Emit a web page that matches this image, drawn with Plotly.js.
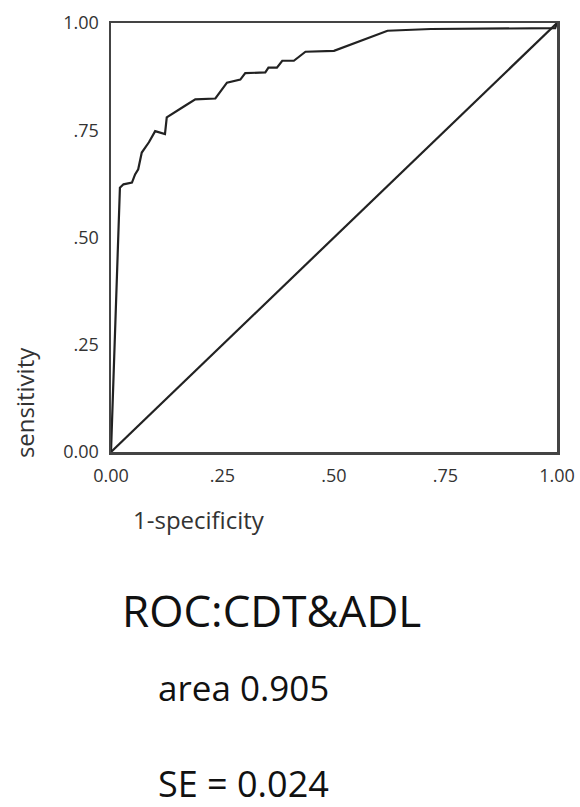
<!DOCTYPE html>
<html>
<head>
<meta charset="utf-8">
<script src="https://cdn.plot.ly/plotly-3.0.1.min.js"></script>
<style>html,body{margin:0;padding:0;background:#fff;}#chart{width:580px;height:807px;}</style>
</head>
<body>
<div id="chart"></div>
<script>
// ROC curve points (1-specificity, sensitivity)
const fpr = [0.000, 0.020, 0.028, 0.047, 0.054, 0.061, 0.069, 0.085, 0.099, 0.121, 0.125, 0.133, 0.166, 0.189, 0.234, 0.260, 0.290, 0.301, 0.346, 0.353, 0.372, 0.384, 0.410, 0.436, 0.500, 0.620, 0.717, 0.996, 1.000];
const tpr = [0.000, 0.616, 0.624, 0.628, 0.647, 0.659, 0.698, 0.722, 0.748, 0.741, 0.780, 0.785, 0.807, 0.822, 0.824, 0.861, 0.868, 0.883, 0.885, 0.896, 0.896, 0.912, 0.912, 0.933, 0.935, 0.982, 0.986, 0.988, 1.000];
const refX = [0, 1];
const refY = [0, 1];
const tickVals = [0, 0.25, 0.5, 0.75, 1];
const tickText = ["0.00", ".25", ".50", ".75", "1.00"];
const titleText = "ROC:CDT&ADL";
const areaText = "area 0.905";
const seText = "SE = 0.024";

const FONT = "Open Sans, Noto Sans, sans-serif";

const traces = [
  {x: fpr, y: tpr, mode: "lines", line: {color: "#222", width: 2.2}, hoverinfo: "skip"},
  {x: refX, y: refY, mode: "lines", line: {color: "#222", width: 2.2}, hoverinfo: "skip"}
];

const axisCommon = {
  range: [0, 1], showgrid: false, zeroline: false,
  showline: true, mirror: true, linecolor: "#444", linewidth: 2.5,
  ticks: "", tickvals: tickVals, ticktext: tickText,
  tickfont: {family: FONT, size: 18, color: "#333"}, fixedrange: true
};

const layout = {
  width: 580, height: 807,
  margin: {l: 111, r: 23, t: 23, b: 355},
  paper_bgcolor: "#fff", plot_bgcolor: "#fff",
  showlegend: false,
  xaxis: Object.assign({}, axisCommon, {ticklabelstandoff: 6}),
  yaxis: Object.assign({}, axisCommon, {ticklabelstandoff: 6}),
  annotations: [
    {text: "sensitivity", xref: "paper", yref: "paper", x: -0.195, y: 0.114, textangle: -90, showarrow: false,
     xanchor: "center", yanchor: "middle", font: {family: FONT, size: 24, color: "#333"}},
    {text: "1-specificity", xref: "paper", yref: "paper", x: 0.197, y: -0.158, showarrow: false,
     xanchor: "center", yanchor: "middle", font: {family: FONT, size: 24, color: "#333"}},
    {text: titleText, xref: "paper", yref: "paper", x: 0.359, y: -0.368, showarrow: false,
     xanchor: "center", yanchor: "middle", font: {family: FONT, size: 44, color: "#111"}},
    {text: areaText, xref: "paper", yref: "paper", x: 0.298, y: -0.55, showarrow: false,
     xanchor: "center", yanchor: "middle", font: {family: FONT, size: 35, color: "#111"}},
    {text: seText, xref: "paper", yref: "paper", x: 0.298, y: -0.772, showarrow: false,
     xanchor: "center", yanchor: "middle", font: {family: FONT, size: 36, color: "#111"}}
  ]
};

Plotly.newPlot("chart", traces, layout, {displayModeBar: false, staticPlot: true});
</script>
</body>
</html>
